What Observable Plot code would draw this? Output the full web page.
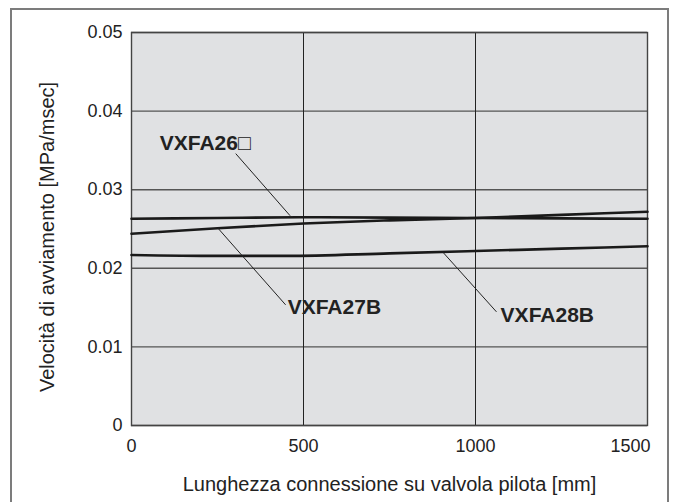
<!DOCTYPE html>
<html>
<head>
<meta charset="utf-8">
<script src="https://cdn.jsdelivr.net/npm/d3@7"></script>
<script src="https://cdn.jsdelivr.net/npm/@observablehq/plot@0.6"></script>
<style>
  body { margin: 0; background: #fff; }
  #wrap { position: relative; width: 674px; height: 502px; overflow: hidden; background: #fff; }
  #border { position: absolute; left: 10px; top: 8px; width: 655px; height: 540px; border: 2px solid #7c7c7c; }
  #chart { position: absolute; left: 0; top: 0; }
</style>
</head>
<body>
<div id="wrap"><div id="border"></div><div id="chart"></div></div>
<script>
// ---- data ----
const lengths26 = [0, 250, 500, 750, 1000, 1250, 1500];
const vxfa26 = [0.0263, 0.0264, 0.0265, 0.02645, 0.0264, 0.02635, 0.0263];
const lengths27 = [0, 250, 500, 750, 1000, 1250, 1500];
const vxfa27b = [0.0244, 0.0251, 0.0257, 0.0261, 0.0264, 0.0268, 0.0272];
const lengths28 = [0, 250, 450, 750, 1000, 1250, 1500];
const vxfa28b = [0.0217, 0.02158, 0.02158, 0.0219, 0.0222, 0.0225, 0.0228];

const seriesNames = ["VXFA26\u25A1", "VXFA27B", "VXFA28B"];
// label anchors and leader lines (data units)
const labelX = [82, 454, 1073];
const labelY = [0.0351, 0.0142, 0.0132];
const leaderX1 = [303, 251, 906];
const leaderY1 = [0.03459, 0.02512, 0.02201];
const leaderX2 = [461, 448, 1061];
const leaderY2 = [0.02669, 0.01535, 0.01446];

const xTicks = [0, 500, 1000];
const xLastTick = [1500];
const yTicks = [0, 0.01, 0.02, 0.03, 0.04, 0.05];
const yTickLabels = ["0", "0.01", "0.02", "0.03", "0.04", "0.05"];
const xTitle = "Lunghezza connessione su valvola pilota [mm]";
const yTitle = "Velocità di avviamento [MPa/msec]";

// ---- build tables ----
const rows = [];
[[lengths26, vxfa26, 0], [lengths27, vxfa27b, 1], [lengths28, vxfa28b, 2]].forEach(([xs, ys, i]) => {
  xs.forEach((x, j) => rows.push({series: seriesNames[i], x, y: ys[j]}));
});
const labels = seriesNames.map((name, i) => ({name, x: labelX[i], y: labelY[i]}));
const leaders = seriesNames.map((name, i) => ({x1: leaderX1[i], y1: leaderY1[i], x2: leaderX2[i], y2: leaderY2[i]}));

const font = "'Liberation Sans', Arial, Helvetica, sans-serif";

const chart = Plot.plot({
  width: 674,
  height: 502,
  marginLeft: 131,
  marginRight: 27,
  marginTop: 32,
  marginBottom: 77,
  style: {fontFamily: font, fontSize: "18px", color: "#222", background: "transparent"},
  x: {domain: [0, 1500]},
  y: {domain: [0, 0.05]},
  marks: [
    Plot.frame({fill: "#e0e1e3", stroke: null}),
    Plot.gridY(yTicks, {stroke: "#555", strokeOpacity: 1, strokeWidth: 1.4}),
    Plot.gridX(xTicks.concat(xLastTick), {stroke: "#222", strokeOpacity: 1, strokeWidth: 1}),
    Plot.frame({stroke: "#444", strokeWidth: 1.4}),
    Plot.axisX(xTicks, {tickSize: 0, tickPadding: 14, tickFormat: d3.format("d"), label: null, fontSize: 18}),
    Plot.axisX(xLastTick, {tickSize: 0, tickPadding: 14, tickFormat: d3.format("d"), label: null, fontSize: 18, textAnchor: "end", dx: 3}),
    Plot.axisY(yTicks, {tickSize: 0, tickPadding: 9, tickFormat: (d) => yTickLabels[yTicks.indexOf(d)], label: null, fontSize: 18}),
    Plot.text([xTitle], {frameAnchor: "bottom", dy: 59, textAnchor: "middle", lineAnchor: "middle", fontSize: 20, fill: "#222"}),
    Plot.text([yTitle], {frameAnchor: "left", dx: -84, dy: 8, rotate: -90, textAnchor: "middle", lineAnchor: "middle", fontSize: 20, fill: "#222"}),
    Plot.line(rows, {x: "x", y: "y", z: "series", stroke: "#1a1a1a", strokeWidth: 2.6, curve: "monotone-x"}),
    Plot.link(leaders, {x1: "x1", y1: "y1", x2: "x2", y2: "y2", stroke: "#222", strokeWidth: 1}),
    Plot.text(labels, {x: "x", y: "y", text: "name", textAnchor: "start", lineAnchor: "bottom", fontSize: 21, fontWeight: "bold", fill: "#222"})
  ]
});
document.getElementById("chart").appendChild(chart);
</script>
</body>
</html>
